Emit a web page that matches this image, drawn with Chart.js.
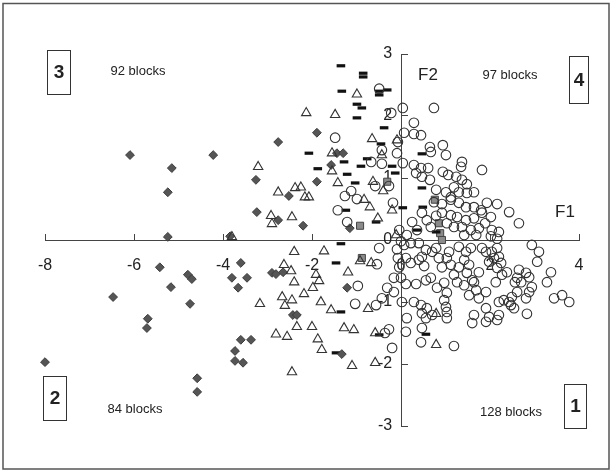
<!DOCTYPE html>
<html>
<head>
<meta charset="utf-8">
<script src="https://cdn.jsdelivr.net/npm/chart.js@4.4.0/dist/chart.umd.min.js"></script>
<style>
  body { margin: 0; background: #fff; }
  #wrap { width: 614px; height: 475px; position: relative; }
</style>
</head>
<body>
<div id="wrap"><canvas id="myChart"></canvas></div>
<script>
// axis ticks
const xTicks = [-8, -6, -4, -2, 0, 2, 4];
const yTicks = [-3, -2, -1, 0, 1, 2, 3];

// group 1 (open circles)
const circles = [
  [-0.49,2.44],[0.04,2.13],[0.74,2.13],[-0.22,2.05],[0.29,1.89],[0.07,1.73],[0.29,1.71],[0.45,1.69],
  [-1.48,1.65],[-0.07,1.58],[-0.43,1.45],[-0.09,1.40],[0.65,1.50],[0.67,1.42],[0.94,1.53],[1.01,1.37],
  [1.37,1.26],[1.35,1.18],[1.82,1.13],[-0.67,1.26],[0.04,1.24],[0.29,1.21],[0.45,1.16],[0.61,1.16],
  [0.34,1.08],[0.47,1.02],[0.65,0.97],[0.94,1.10],[1.06,1.05],[1.24,1.02],[1.37,0.97],[1.48,0.90],
  [0.79,0.81],[1.01,0.77],[1.19,0.85],[1.30,0.77],[1.12,0.69],[1.48,0.76],[1.64,0.77],[-1.12,0.79],
  [-1.26,0.71],[-0.99,0.66],[-0.27,0.87],[-0.58,0.87],[-1.42,0.48],[-0.18,0.60],[0.74,0.61],[0.92,0.58],
  [1.12,0.65],[1.30,0.60],[1.46,0.53],[1.64,0.53],[1.80,0.48],[1.93,0.60],[2.16,0.58],[2.43,0.45],
  [2.65,0.27],[0.47,0.44],[0.58,0.32],[0.79,0.39],[0.92,0.44],[1.12,0.40],[1.26,0.37],[1.46,0.32],
  [1.64,0.35],[1.82,0.44],[2.02,0.37],[0.25,0.29],[0.36,0.16],[0.67,0.21],[1.03,0.27],[1.19,0.21],
  [1.37,0.21],[1.57,0.16],[1.75,0.19],[1.89,0.27],[2.04,0.16],[2.20,0.13],[-1.21,0.29],[-0.04,0.16],
  [-0.43,1.23],[0.13,0.08],[0.00,-0.02],[0.22,-0.05],[0.07,-0.08],[-0.09,-0.15],[0.40,-0.05],[0.56,-0.16],
  [0.47,-0.27],[0.79,-0.13],[0.70,-0.19],[-0.49,-0.13],[-0.07,-0.29],[0.11,-0.29],[0.22,-0.37],[-0.04,-0.44],
  [0.40,-0.32],[0.52,-0.42],[0.85,-0.29],[0.92,-0.44],[-0.54,-0.39],[-0.16,-0.61],[0.00,-0.61],[0.11,-0.71],
  [-0.31,-0.77],[-0.16,-0.84],[0.34,-0.71],[0.56,-0.65],[0.67,-0.61],[0.81,-0.77],[0.97,-0.69],[1.03,-0.85],
  [-0.97,-0.74],[-0.43,-0.94],[-0.56,-1.05],[-1.03,-1.03],[0.02,-1.00],[0.29,-1.00],[0.45,-1.05],[0.58,-1.10],
  [0.47,-1.18],[0.56,-1.26],[0.70,-1.21],[0.13,-1.26],[-0.27,-1.44],[-0.36,-1.50],[0.11,-1.48],[0.47,-1.42],
  [0.45,-1.65],[-0.20,-1.74],[1.19,-1.71],[0.97,-0.97],[1.01,-1.08],[1.03,-1.16],[1.03,-1.26],[1.42,0.08],
  [1.69,0.08],[2.02,0.06],[2.16,0.02],[1.30,-0.11],[1.46,-0.19],[1.57,-0.13],[1.08,-0.19],[1.03,-0.29],
  [1.82,-0.13],[1.91,-0.19],[2.04,-0.19],[2.16,-0.13],[2.20,-0.27],[2.09,-0.29],[1.98,-0.35],[2.25,-0.37],
  [2.16,-0.45],[2.38,-0.52],[2.27,-0.56],[1.75,-0.52],[1.60,-0.65],[1.42,-0.73],[1.64,-0.68],[2.13,-0.68],
  [2.65,-0.48],[2.61,-0.61],[2.81,-0.53],[2.88,-0.60],[2.70,-0.68],[2.56,-0.68],[2.94,-0.08],[3.10,-0.19],
  [3.06,-0.35],[3.37,-0.52],[3.28,-0.68],[2.94,-0.76],[2.88,-0.84],[2.81,-0.94],[2.61,-0.84],[2.49,-0.92],
  [2.43,-1.00],[2.31,-0.97],[2.47,-1.05],[2.54,-1.10],[2.20,-1.00],[1.91,-0.84],[1.75,-0.94],[1.53,-0.89],
  [1.69,-0.81],[3.44,-0.94],[3.62,-0.89],[3.78,-1.00],[2.83,-1.19],[1.91,-1.10],[1.98,-1.24],[1.91,-1.32],
  [1.64,-1.21],[1.60,-1.34],[2.20,-1.21],[2.16,-1.29],[1.12,-0.40],[1.30,-0.44],[1.48,-0.53],[1.53,-0.40],
  [1.19,-0.56],[1.26,-0.68],[1.42,-0.32]
];

// group 2 (open triangles)
const triangles = [
  [-3.21,1.18],[-2.76,0.77],[-2.38,0.84],[-2.25,0.85],[-2.16,0.69],[-2.92,0.39],[-2.90,0.26],[-2.45,0.37],
  [-2.13,2.05],[-3.80,0.05],[-0.99,2.35],[-1.48,2.02],[-0.65,1.63],[-0.09,1.61],[-1.55,1.40],[-0.43,1.37],
  [-1.55,1.11],[-1.42,0.92],[-0.63,0.94],[-0.40,0.79],[-2.07,0.69],[-0.83,0.65],[-0.70,0.53],[-0.20,0.48],
  [-0.52,0.35],[-2.40,-0.19],[-1.73,-0.18],[-0.92,-0.34],[-0.67,-0.37],[-2.63,-0.40],[-2.47,-0.50],[-1.91,-0.56],
  [-1.84,-0.66],[-2.40,-0.68],[-1.19,-0.52],[-1.98,-0.77],[-2.18,-0.87],[-2.67,-0.92],[-2.45,-0.97],[-2.61,-1.06],
  [-1.80,-1.00],[-1.57,-1.13],[-0.74,-1.11],[-2.34,-1.40],[-2.00,-1.40],[-1.28,-1.42],[-1.06,-1.45],[-0.58,-1.50],
  [-1.87,-1.60],[-1.78,-1.77],[-1.10,-2.03],[-0.58,-1.98],[-0.11,0.08],[0.79,-1.19],[0.79,-1.69],[-3.17,-1.03],
  [-2.81,-1.52],[-2.56,-1.56],[-2.45,-2.13]
];

// group 3 (filled diamonds)
const diamonds = [
  [-6.09,1.37],[-5.15,1.16],[-4.22,1.37],[-5.24,0.77],[-2.76,1.58],[-3.26,0.97],[-2.52,0.71],[-3.24,0.45],
  [-2.76,0.32],[-2.20,0.23],[-5.24,0.05],[-3.84,0.06],[-5.42,-0.44],[-4.79,-0.56],[-4.70,-0.63],[-5.17,-0.76],
  [-6.47,-0.92],[-4.74,-1.03],[-5.69,-1.27],[-5.71,-1.42],[-8.00,-1.97],[-4.58,-2.23],[-4.58,-2.45],[-3.60,-0.37],
  [-3.80,-0.61],[-3.46,-0.61],[-3.66,-0.77],[-3.60,-1.61],[-3.37,-1.61],[-3.73,-1.79],[-3.73,-1.95],[-3.55,-1.98],
  [-2.90,-0.53],[-2.81,-0.55],[-2.65,-0.52],[-2.43,-1.21],[-2.34,-1.21],[-1.89,1.73],[-1.44,1.40],[-1.30,1.40],
  [-1.57,1.21],[-1.89,0.94],[-1.15,0.19],[-1.21,-0.77],[-1.33,-1.84]
];

// group 4 (dashes)
const dashes = [
  [-1.35,2.81],[-0.85,2.69],[-0.85,2.63],[-1.33,2.40],[-0.49,2.40],[-0.31,2.42],[-0.49,2.34],[-0.99,2.19],
  [-0.88,2.13],[-0.99,1.97],[-0.38,1.81],[-2.07,1.40],[-0.45,1.55],[0.47,1.39],[-1.28,1.26],[-0.76,1.31],
  [-0.90,1.19],[-0.20,1.19],[-1.87,1.15],[-1.21,1.06],[-1.03,0.92],[-0.13,1.08],[0.47,0.84],[-1.24,0.48],
  [0.49,0.53],[0.04,0.52],[0.36,0.16],[0.79,0.13],[-0.56,0.29],[-1.35,-0.06],[-1.46,-0.37],[-1.35,-1.16],
  [-0.49,-1.53],[0.56,-1.52],[-1.46,-1.82]
];

// group 5 (grey squares)
const squares = [
  [-0.31,0.94],[-0.92,0.23],[0.76,0.65],[0.85,0.27],[0.88,0.11],[0.92,0.00],[-0.88,-0.29]
];

const toPts = arr => arr.map(p => ({x: p[0], y: p[1]}));

const notes = {
  id: 'notes',
  afterDraw(chart) {
    const c = chart.ctx;
    c.save();
    // frame
    c.strokeStyle = '#555';
    c.lineWidth = 1.5;
    c.strokeRect(3, 3.5, 606, 465.5);
    // boxed numbers
    c.lineWidth = 1;
    c.strokeStyle = '#333';
    c.fillStyle = '#222';
    c.font = 'bold 19px "Liberation Sans", Arial, sans-serif';
    c.textAlign = 'center';
    c.textBaseline = 'middle';
    [['3', 47, 50, 23, 44], ['4', 569, 56, 19, 47], ['2', 43, 376, 23, 44], ['1', 564, 384, 22, 44]].forEach(b => {
      c.strokeRect(b[1] + 0.5, b[2] + 0.5, b[3], b[4]);
      c.fillText(b[0], b[1] + b[3] / 2 + 0.5, b[2] + b[4] / 2 + 1);
    });
    c.font = '13px "Liberation Sans", Arial, sans-serif';
    c.fillText('92 blocks', 138, 71);
    c.fillText('97 blocks', 510, 75);
    c.fillText('84 blocks', 135, 409);
    c.fillText('128 blocks', 511, 412);
    c.font = '17px "Liberation Sans", Arial, sans-serif';
    c.fillText('F2', 428, 75);
    c.fillText('F1', 565, 212);
    c.restore();
  }
};

const tickFont = {size: 16, family: '"Liberation Sans", Arial, sans-serif'};

new Chart(document.getElementById('myChart'), {
  type: 'scatter',
  data: {
    datasets: [
      {label: 'circles', data: toPts(circles), pointStyle: 'circle', pointRadius: 4.8,
       borderColor: '#333', backgroundColor: 'rgba(0,0,0,0)', borderWidth: 1.1, clip: false},
      {label: 'triangles', data: toPts(triangles), pointStyle: 'triangle', pointRadius: 5.4,
       borderColor: '#333', backgroundColor: 'rgba(0,0,0,0)', borderWidth: 1.1, clip: false},
      {label: 'diamonds', data: toPts(diamonds), pointStyle: 'rectRot', pointRadius: 4.4,
       borderColor: '#3c3c3c', backgroundColor: '#555', borderWidth: 1, clip: false},
      {label: 'dashes', data: toPts(dashes), pointStyle: 'line', pointRadius: 4.3,
       borderColor: '#111', borderWidth: 3.2, clip: false},
      {label: 'squares', data: toPts(squares), pointStyle: 'rect', pointRadius: 5,
       borderColor: '#444', backgroundColor: '#8a8a8a', borderWidth: 1, clip: false}
    ]
  },
  options: {
    responsive: true,
    maintainAspectRatio: false,
    animation: false,
    layout: {padding: {left: 45, right: 35, top: 54, bottom: 49}},
    plugins: {
      legend: {display: false},
      tooltip: {enabled: false}
    },
    scales: {
      x: {
        type: 'linear', min: -8, max: 4, position: {y: 0},
        afterFit: s => { s.height = 0; },
        afterBuildTicks: s => { s.ticks = xTicks.map(v => ({value: v})); },
        ticks: {font: tickFont, color: '#222', padding: 23},
        grid: {drawOnChartArea: false, tickLength: -7, color: '#444'},
        border: {color: '#444', width: 1}
      },
      y: {
        type: 'linear', min: -3, max: 3, position: {x: 0},
        afterFit: s => { s.width = 0; },
        afterBuildTicks: s => { s.ticks = yTicks.map(v => ({value: v})); },
        ticks: {font: tickFont, color: '#222', padding: 8, callback: v => v + '  '},
        grid: {drawOnChartArea: false, tickLength: -7, color: '#444'},
        border: {color: '#444', width: 1}
      }
    }
  },
  plugins: [notes]
});
</script>
</body>
</html>
